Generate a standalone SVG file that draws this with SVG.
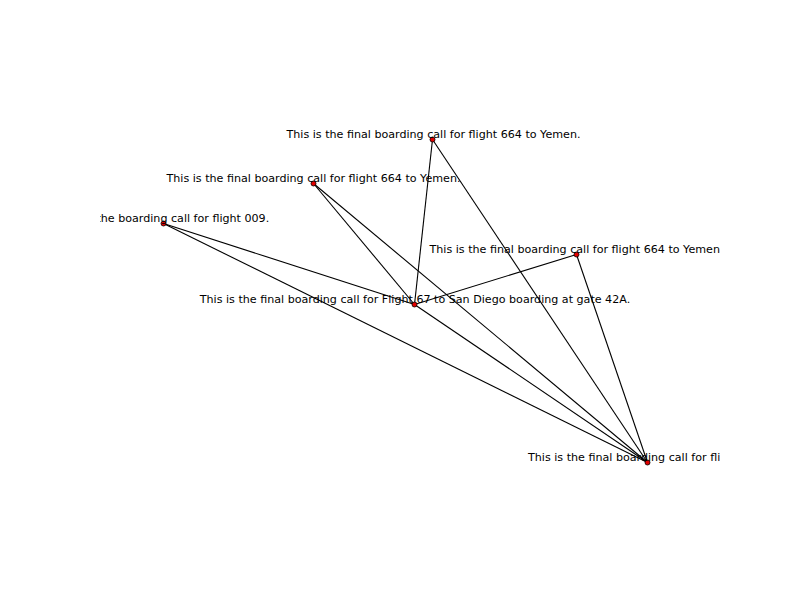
<svg xmlns="http://www.w3.org/2000/svg" width="800" height="600" viewBox="0 0 800 600">
<style>
.edge{stroke:#000;stroke-width:1.1;fill:none}
.node{fill:#e00000;stroke:#000;stroke-width:0.8}
.lbl{font-family:"DejaVu Sans",sans-serif;font-size:11.11px;fill:#000;text-anchor:middle}
</style>
<defs>
<clipPath id="ax"><rect x="100" y="72" width="620" height="462"/></clipPath>
</defs>
<rect width="800" height="600" fill="#fff"/>
<g id="edges">
<line class="edge" x1="432.5" y1="139.5" x2="414.5" y2="304.5"/>
<line class="edge" x1="432.5" y1="139.5" x2="647.5" y2="462.5"/>
<line class="edge" x1="313.5" y1="183.5" x2="414.5" y2="304.5"/>
<line class="edge" x1="313.5" y1="183.5" x2="647.5" y2="462.5"/>
<line class="edge" x1="163.5" y1="223.5" x2="414.5" y2="304.5"/>
<line class="edge" x1="163.5" y1="223.5" x2="647.5" y2="462.5"/>
<line class="edge" x1="576.5" y1="254.5" x2="414.5" y2="304.5"/>
<line class="edge" x1="576.5" y1="254.5" x2="647.5" y2="462.5"/>
<line class="edge" x1="414.5" y1="304.5" x2="647.5" y2="462.5"/>
</g>
<g id="nodeA"><circle class="node" cx="432.5" cy="139.5" r="2.5"/></g>
<g id="nodeB"><circle class="node" cx="313.5" cy="183.5" r="2.5"/></g>
<g id="nodeC"><circle class="node" cx="163.5" cy="223.5" r="2.5"/></g>
<g id="nodeD"><circle class="node" cx="576.5" cy="254.5" r="2.5"/></g>
<g id="nodeE"><circle class="node" cx="414.5" cy="304.5" r="2.5"/></g>
<g id="nodeF"><circle class="node" cx="647.5" cy="462.5" r="2.5"/></g>
<g id="labels" clip-path="url(#ax)">
<text class="lbl" x="433.5" y="137.6">This is the final boarding call for flight 664 to Yemen.</text>
<text class="lbl" x="313.5" y="181.6">This is the final boarding call for flight 664 to Yemen.</text>
<text class="lbl" x="163.5" y="221.6">This is the boarding call for flight 009.</text>
<text class="lbl" x="576.5" y="252.6">This is the final boarding call for flight 664 to Yemen.</text>
<text class="lbl" x="415" y="302.6">This is the final boarding call for Flight 67 to San Diego boarding at gate 42A.</text>
<text class="lbl" x="647.5" y="460.6">This is the final boarding call for flight 009.</text>
</g>
</svg>
